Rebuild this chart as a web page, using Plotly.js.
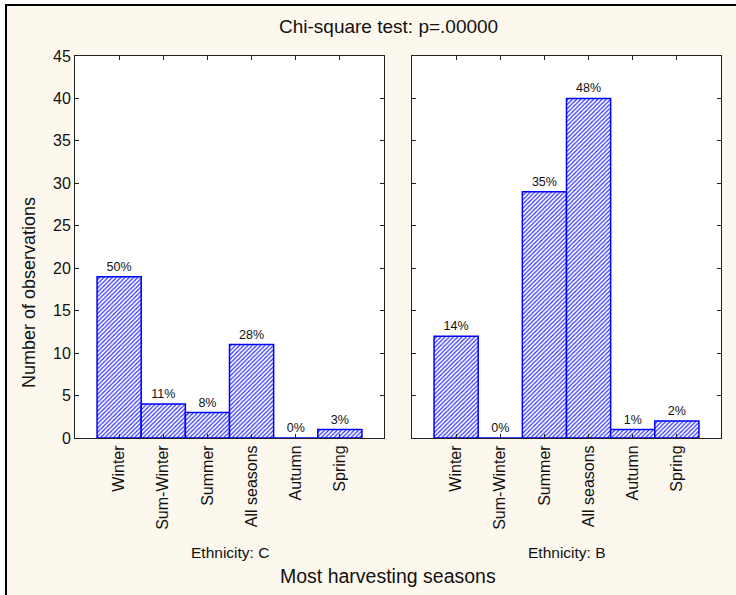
<!DOCTYPE html>
<html>
<head>
<meta charset="utf-8">
<script src="https://cdn.plot.ly/plotly-3.0.1.min.js"></script>
<style>
  html, body { margin: 0; padding: 0; background: #ffffff; }
  #frame {
    position: absolute; left: 5px; top: 4px; width: 800px; height: 700px;
    background: #fdf8ee; border-left: 2px solid #000; border-top: 2px solid #000;
  }
  #chart { position: absolute; left: 0; top: 0; width: 736px; height: 595px; }
</style>
</head>
<body>
<div id="frame"></div>
<div id="chart"></div>
<script>
// Harvesting-season counts per ethnicity
const seasons = ["Winter", "Sum-Winter", "Summer", "All seasons", "Autumn", "Spring"];
const countsC = [19, 4, 3, 11, 0, 1];
const pctC = ["50%", "11%", "8%", "28%", "0%", "3%"];
const countsB = [12, 0, 29, 40, 1, 2];
const pctB = ["14%", "0%", "35%", "48%", "1%", "2%"];
const panelTitles = ["Ethnicity: C", "Ethnicity: B"];

const FONT = "Liberation Sans, Arial, Helvetica, sans-serif";
const BLUE = "#0000ff";

function barTrace(counts, labels, xa, ya) {
  return {
    type: "bar",
    x: seasons,
    y: counts,
    xaxis: xa,
    yaxis: ya,
    width: 1,
    text: labels,
    textposition: "outside",
    textfont: { family: FONT, size: 12.5, color: "#111" },
    cliponaxis: false,
    marker: {
      color: "#ffffff",
      line: { color: BLUE, width: 1.5 },
      pattern: { shape: "/", fgcolor: "#3030ff", bgcolor: "#ffffff", size: 3, solidity: 0.4 }
    },
    hoverinfo: "none",
    showlegend: false
  };
}

const xCommon = {
  type: "category",
  range: [-1, 6],
  showline: true, linecolor: "#222", linewidth: 1,
  mirror: "ticks", ticks: "inside", ticklen: 4, tickcolor: "#222",
  tickangle: -90,
  tickfont: { family: FONT, size: 16, color: "#111" },
  showgrid: false, zeroline: false, fixedrange: true
};
const yCommon = {
  range: [0, 45], dtick: 5,
  showline: true, linecolor: "#222", linewidth: 1,
  mirror: "ticks", ticks: "inside", ticklen: 4, tickcolor: "#222",
  tickfont: { family: FONT, size: 16, color: "#111" },
  showgrid: false, zeroline: false, fixedrange: true
};

const L = 75, R = 15, T = 56, B = 157, W = 736, H = 595;
const pw = W - L - R, ph = H - T - B;
const px = v => (v - L) / pw;          // figure pixel -> paper x
const py = v => (H - B - v) / ph;      // figure pixel -> paper y

const layout = {
  width: W, height: H,
  margin: { l: L, r: R, t: T, b: B, pad: 0 },
  paper_bgcolor: "rgba(0,0,0,0)",
  plot_bgcolor: "#ffffff",
  bargap: 0,
  font: { family: FONT, color: "#111" },
  xaxis: Object.assign({}, xCommon, { domain: [0, 309 / pw], anchor: "y" }),
  yaxis: Object.assign({}, yCommon, { anchor: "x" }),
  xaxis2: Object.assign({}, xCommon, { domain: [1 - 309 / pw, 1], anchor: "y2" }),
  yaxis2: Object.assign({}, yCommon, { anchor: "x2", matches: "y", showticklabels: false }),
  annotations: [
    { text: "Chi-square test: p=.00000", xref: "paper", yref: "paper", x: px(388), y: py(27),
      xanchor: "center", yanchor: "middle", showarrow: false, font: { family: FONT, size: 19, color: "#111" } },
    { text: "Number of observations", xref: "paper", yref: "paper", x: px(29), y: py(293),
      xanchor: "center", yanchor: "middle", textangle: -90, showarrow: false, font: { family: FONT, size: 18, color: "#111" } },
    { text: panelTitles[0], xref: "paper", yref: "paper", x: (309 / pw) / 2, y: py(552),
      xanchor: "center", yanchor: "middle", showarrow: false, font: { family: FONT, size: 15.5, color: "#111" } },
    { text: panelTitles[1], xref: "paper", yref: "paper", x: 1 - (309 / pw) / 2, y: py(552),
      xanchor: "center", yanchor: "middle", showarrow: false, font: { family: FONT, size: 15.5, color: "#111" } },
    { text: "Most harvesting seasons", xref: "paper", yref: "paper", x: px(388), y: py(576),
      xanchor: "center", yanchor: "middle", showarrow: false, font: { family: FONT, size: 19.5, color: "#111" } }
  ]
};

Plotly.newPlot("chart", [
  barTrace(countsC, pctC, "x", "y"),
  barTrace(countsB, pctB, "x2", "y2")
], layout, { staticPlot: true, displayModeBar: false });
</script>
</body>
</html>
